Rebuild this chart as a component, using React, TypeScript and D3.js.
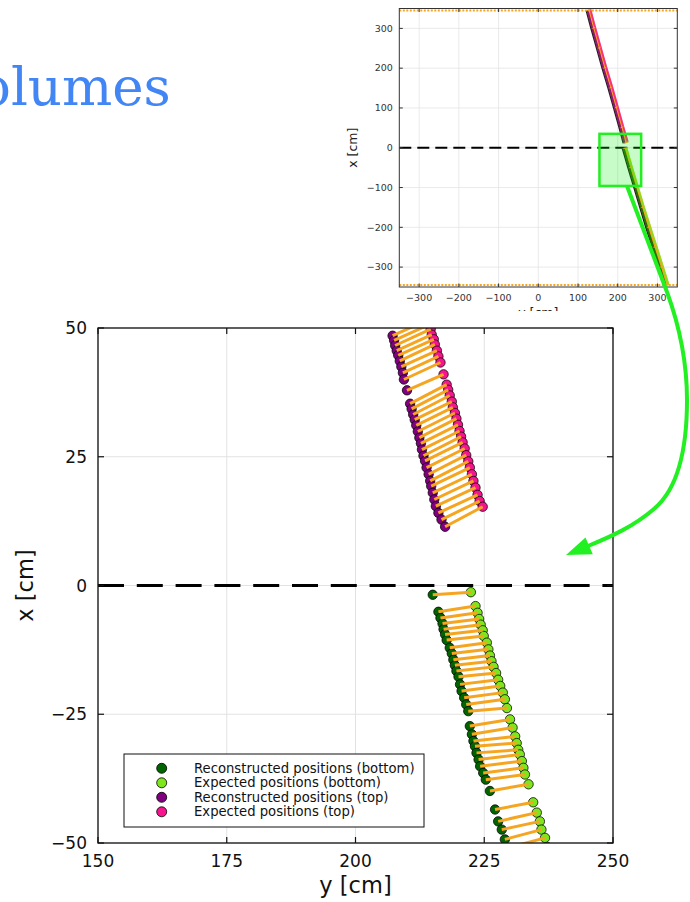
import React from "react";
import * as d3 from "d3";

// ---------- data ----------
const titleText = "olumes";

const mainYTicks = [150, 175, 200, 225, 250];
const mainXTicks = [-50, -25, 0, 25, 50];
const insetTicks = [-300, -200, -100, 0, 100, 200, 300];

const legendLabels = [
  "Reconstructed positions (bottom)",
  "Expected positions (bottom)",
  "Reconstructed positions (top)",
  "Expected positions (top)",
];

// top (reco = purple, expected = pink)
const topRecoY = [207.2, 207.5, 207.7, 208.0, 208.3, 208.6, 208.9, 209.2, 209.4, 210.0, 210.6, 210.9, 211.2, 211.5, 211.8, 212.1, 212.4, 212.7, 212.9, 213.2, 213.5, 213.8, 214.2, 214.5, 214.7, 215.0, 215.3, 215.6, 216.1, 216.7, 217.4];
const topRecoX = [48.5, 47.6, 46.6, 45.6, 44.7, 43.6, 42.5, 41.3, 40.0, 37.9, 35.3, 34.3, 33.2, 32.2, 31.1, 29.9, 28.7, 27.6, 26.4, 25.2, 24.2, 22.9, 21.6, 20.3, 19.3, 18.0, 16.7, 15.4, 14.1, 12.8, 11.4];
const topExpY = [214.1, 214.4, 214.6, 214.8, 215.2, 215.4, 215.8, 216.1, 216.5, 217.1, 217.7, 218.0, 218.3, 218.7, 218.9, 219.3, 219.6, 219.9, 220.2, 220.5, 220.8, 221.2, 221.5, 221.9, 222.2, 222.6, 222.9, 223.3, 223.7, 224.1, 224.7];
const topExpX = [51.6, 50.7, 49.8, 48.7, 47.8, 46.8, 45.6, 44.5, 43.3, 41.0, 39.0, 38.0, 36.9, 35.7, 34.6, 33.5, 32.4, 31.2, 30.0, 28.9, 27.8, 26.6, 25.3, 24.1, 22.9, 21.6, 20.3, 19.0, 17.6, 16.4, 15.3];

// bottom (reco = dark green, expected = light green)
const botRecoY = [215.0, 216.1, 216.5, 216.9, 217.1, 217.4, 217.7, 218.3, 218.7, 219.0, 219.3, 219.6, 220.0, 220.3, 220.6, 221.1, 221.5, 221.9, 222.2, 222.6, 222.9, 223.2, 223.5, 223.9, 224.2, 224.8, 225.3, 226.1, 227.1, 227.7, 228.4, 229.0, 229.4, 230.0];
const botRecoX = [-1.8, -5.1, -6.3, -7.4, -8.5, -9.5, -10.6, -12.1, -13.2, -14.4, -15.5, -16.6, -17.7, -19.2, -20.5, -21.8, -23.1, -24.4, -27.3, -28.9, -30.2, -31.2, -32.5, -33.8, -35.1, -36.4, -37.7, -39.9, -43.5, -45.8, -47.4, -49.3, -51.0, -52.5];
const botExpY = [222.4, 223.3, 223.7, 224.0, 224.3, 224.7, 224.9, 225.5, 225.8, 226.1, 226.4, 226.8, 227.3, 227.7, 228.1, 228.6, 229.0, 229.4, 230.0, 230.5, 231.0, 231.3, 231.6, 231.9, 232.3, 232.6, 232.9, 233.6, 234.5, 235.2, 235.8, 236.1, 236.8, 237.3];
const botExpX = [-1.3, -4.0, -5.3, -6.5, -7.6, -8.7, -9.8, -11.1, -12.4, -13.6, -14.7, -15.8, -17.0, -18.3, -19.5, -20.8, -22.1, -23.8, -26.0, -27.6, -29.3, -30.6, -31.9, -32.8, -34.1, -35.4, -36.7, -38.6, -42.1, -44.1, -45.8, -47.4, -49.0, -50.8];

// inset overview track
const insetTopX = [345, 300, 250, 200, 150, 100, 50, 12];
const insetTopRecoY = [124, 136, 150, 164, 179, 193, 207, 217];
const insetTopExpX = [348, 303, 253, 203, 153, 103, 53, 15];
const insetTopExpY = [131, 143, 157, 171, 186, 200, 214, 225];
const insetBotX = [-2, -50, -100, -150, -200, -250, -300, -345];
const insetBotRecoY = [215, 229, 244, 259, 274, 290, 306, 320];
const insetBotExpX = [-1, -49, -99, -149, -199, -249, -299, -344];
const insetBotExpY = [222, 236, 251, 266, 282, 298, 314, 328];
const zoomBoxY = [154, 259];
const zoomBoxX = [-96, 35];
const boundaryX = [-345, 345];

// ---------- styles ----------
const COLORS = ["#006400", "#7ee61c", "#800080", "#f7158f"];
const ORANGE = "#f5a520";
const FONT = "DejaVu Sans, Liberation Sans, sans-serif";

export default function App() {
  // main plot scales (horizontal = y data, vertical = x data)
  const sy = d3.scaleLinear().domain([150, 250]).range([98, 613]);
  const sx = d3.scaleLinear().domain([-50, 50]).range([843, 328]);
  const [L, R] = sy.range();
  const [B, T] = sx.range();

  // inset scales
  const iy = d3.scaleLinear().domain([-350, 350]).range([399.3, 677.3]);
  const ix = d3.scaleLinear().domain([-350, 350]).range([287, 8.5]);
  const [iL, iR] = iy.range();
  const [iB, iT] = ix.range();

  const fmt = d3.format("d");

  const pairs = (ys: number[], xs: number[], ys2: number[], xs2: number[]) =>
    ys.map((v, i) => ({ a: [sy(v), sx(xs[i])], b: [sy(ys2[i]), sx(xs2[i])] }));
  const topPairs = pairs(topRecoY, topRecoX, topExpY, topExpX);
  const botPairs = pairs(botRecoY, botRecoX, botExpY, botExpX);

  const series = [
    { ys: botRecoY, xs: botRecoX, c: COLORS[0] },
    { ys: botExpY, xs: botExpX, c: COLORS[1] },
    { ys: topRecoY, xs: topRecoX, c: COLORS[2] },
    { ys: topExpY, xs: topExpX, c: COLORS[3] },
  ];

  const line = d3.line<[number, number]>();
  const insetPts = (ys: number[], xs: number[]) =>
    ys.map((v, i) => [iy(v), ix(xs[i])] as [number, number]);
  const insetBands = [
    { reco: insetPts(insetTopRecoY, insetTopX), exp: insetPts(insetTopExpY, insetTopExpX), cr: COLORS[2], ce: COLORS[3] },
    { reco: insetPts(insetBotRecoY, insetBotX), exp: insetPts(insetBotExpY, insetBotExpX), cr: COLORS[0], ce: COLORS[1] },
  ];

  // arrow annotation (pixel path)
  const arrowPath =
    "M627,186 L667,292 C 678,322 687,360 687,400 C 687,450 678,488 655,508 C 635,526 610,537 588,546";

  return (
    <svg
      width={690}
      height={902}
      style={{ position: "absolute", left: 0, top: 0, background: "#fff" }}
      fontFamily={FONT}
    >
      <defs>
        <clipPath id="mainclip">
          <rect x={L} y={T} width={R - L} height={B - T} />
        </clipPath>
        <clipPath id="insetclip">
          <rect x={iL} y={iT} width={iR - iL} height={iB - iT} />
        </clipPath>
      </defs>

      {/* title fragment */}
      <text x={-21} y={105} fontFamily="DejaVu Serif, serif" fontSize={53} fill="#4285f4">
        {titleText}
      </text>

      {/* ---------- inset ---------- */}
      <g>
        <rect x={iL} y={iT} width={iR - iL} height={iB - iT} fill="#fff" />
        {insetTicks.map((t) => (
          <g key={"ig" + t}>
            <line x1={iy(t)} x2={iy(t)} y1={iT} y2={iB} stroke="#e4e4e4" strokeWidth={0.8} />
            <line x1={iL} x2={iR} y1={ix(t)} y2={ix(t)} stroke="#e4e4e4" strokeWidth={0.8} />
          </g>
        ))}
        <g clipPath="url(#insetclip)">
          <line x1={iL} x2={iR} y1={ix(0)} y2={ix(0)} stroke="#000" strokeWidth={2} strokeDasharray="12,6" />
          {insetBands.map((b, k) => (
            <g key={"band" + k}>
              <path d={line(b.reco)!} fill="none" stroke="#222" strokeWidth={4} />
              <path d={line([...b.reco, ...b.exp.slice().reverse()]) + "Z"} fill={ORANGE} stroke={ORANGE} strokeWidth={1.5} />
              <path d={line(b.reco)!} fill="none" stroke={b.cr} strokeWidth={2} opacity={0.85} />
              <path d={line(b.exp)!} fill="none" stroke={b.ce} strokeWidth={2} opacity={0.8} />
              {b.reco.map((p, i) => (
                <line key={i} x1={p[0]} y1={p[1]} x2={b.exp[i][0]} y2={b.exp[i][1]} stroke={ORANGE} strokeWidth={1} />
              ))}
            </g>
          ))}
          {boundaryX.map((v) => (
            <line key={"bd" + v} x1={iL} x2={iR} y1={ix(v)} y2={ix(v)} stroke={ORANGE} strokeWidth={2} strokeDasharray="2,1.5" />
          ))}
        </g>
        {/* zoom box */}
        <rect
          x={iy(zoomBoxY[0])}
          y={ix(zoomBoxX[1])}
          width={iy(zoomBoxY[1]) - iy(zoomBoxY[0])}
          height={ix(zoomBoxX[0]) - ix(zoomBoxX[1])}
          fill="rgba(0,235,0,0.22)"
          stroke="#22ee22"
          strokeWidth={2.5}
        />
        {/* frame + ticks */}
        <rect x={iL} y={iT} width={iR - iL} height={iB - iT} fill="none" stroke="#333" strokeWidth={1} />
        {insetTicks.map((t) => (
          <g key={"it" + t}>
            <line x1={iy(t)} x2={iy(t)} y1={iB} y2={iB - 3.5} stroke="#333" />
            <line x1={iy(t)} x2={iy(t)} y1={iT} y2={iT + 3.5} stroke="#333" />
            <line x1={iL} x2={iL + 3.5} y1={ix(t)} y2={ix(t)} stroke="#333" />
            <line x1={iR} x2={iR - 3.5} y1={ix(t)} y2={ix(t)} stroke="#333" />
            <text x={iy(t)} y={300.5} fontSize={9.5} textAnchor="middle" fill="#333">
              {fmt(t)}
            </text>
            <text x={iL - 6.5} y={ix(t) + 3.3} fontSize={9.5} textAnchor="end" fill="#333">
              {fmt(t)}
            </text>
          </g>
        ))}
        <text
          transform={`translate(357,${ix(0)}) rotate(-90)`}
          fontSize={12.5}
          textAnchor="middle"
          fill="#222"
        >
          x [cm]
        </text>
        <text x={iy(0)} y={317} fontSize={12.5} textAnchor="middle" fill="#222">
          y [cm]
        </text>
      </g>

      {/* ---------- main figure background ---------- */}
      <rect x={0} y={311} width={690} height={591} fill="#fff" />

      {/* grid */}
      {mainYTicks.map((t) => (
        <line key={"gy" + t} x1={sy(t)} x2={sy(t)} y1={T} y2={B} stroke="#e2e2e2" strokeWidth={1} />
      ))}
      {mainXTicks.map((t) => (
        <line key={"gx" + t} x1={L} x2={R} y1={sx(t)} y2={sx(t)} stroke="#e2e2e2" strokeWidth={1} />
      ))}

      {/* zero dashed line */}
      <line x1={L} x2={R} y1={sx(0)} y2={sx(0)} stroke="#000" strokeWidth={3} strokeDasharray="26,12.8" />

      {/* points + connectors */}
      <g clipPath="url(#mainclip)">
        {series.map((s, k) => (
          <g key={"s" + k}>
            {s.ys.map((v, i) => (
              <circle
                key={i}
                cx={sy(v)}
                cy={sx(s.xs[i])}
                r={4.7}
                fill={s.c}
                stroke="rgba(0,0,0,0.75)"
                strokeWidth={1}
              />
            ))}
          </g>
        ))}
        {[...botPairs, ...topPairs].map((p, i) => (
          <line key={"c" + i} x1={p.a[0]} y1={p.a[1]} x2={p.b[0]} y2={p.b[1]} stroke={ORANGE} strokeWidth={3} />
        ))}
      </g>

      {/* frame */}
      <rect x={L} y={T} width={R - L} height={B - T} fill="none" stroke="#111" strokeWidth={1.3} />
      {mainYTicks.map((t) => (
        <g key={"ty" + t}>
          <line x1={sy(t)} x2={sy(t)} y1={B} y2={B - 6} stroke="#111" strokeWidth={1.2} />
          <line x1={sy(t)} x2={sy(t)} y1={T} y2={T + 6} stroke="#111" strokeWidth={1.2} />
          <text x={sy(t)} y={867} fontSize={17} textAnchor="middle" fill="#111">
            {fmt(t)}
          </text>
        </g>
      ))}
      {mainXTicks.map((t) => (
        <g key={"tx" + t}>
          <line x1={L} x2={L + 6} y1={sx(t)} y2={sx(t)} stroke="#111" strokeWidth={1.2} />
          <line x1={R} x2={R - 6} y1={sx(t)} y2={sx(t)} stroke="#111" strokeWidth={1.2} />
          <text x={87} y={sx(t) + 6} fontSize={17} textAnchor="end" fill="#111">
            {fmt(t)}
          </text>
        </g>
      ))}
      <text x={(L + R) / 2} y={893} fontSize={22.5} textAnchor="middle" fill="#111">
        y [cm]
      </text>
      <text transform={`translate(33,${sx(0)}) rotate(-90)`} fontSize={22.5} textAnchor="middle" fill="#111">
        x [cm]
      </text>

      {/* legend */}
      <rect x={124} y={754} width={300} height={73} fill="#fff" stroke="#111" strokeWidth={1} />
      {legendLabels.map((lab, i) => (
        <g key={"lg" + i}>
          <circle cx={161.7} cy={768.3 + i * 14.5} r={5} fill={COLORS[i]} stroke="rgba(0,0,0,0.8)" strokeWidth={1} />
          <text x={194} y={772.8 + i * 14.5} fontSize={13.2} fill="#111">
            {lab}
          </text>
        </g>
      ))}

      {/* arrow annotation */}
      <path d={arrowPath} fill="none" stroke="#22f022" strokeWidth={4} />
      <polygon points="566,555 585.5,537.5 592.8,554.3" fill="#22f022" />
    </svg>
  );
}
